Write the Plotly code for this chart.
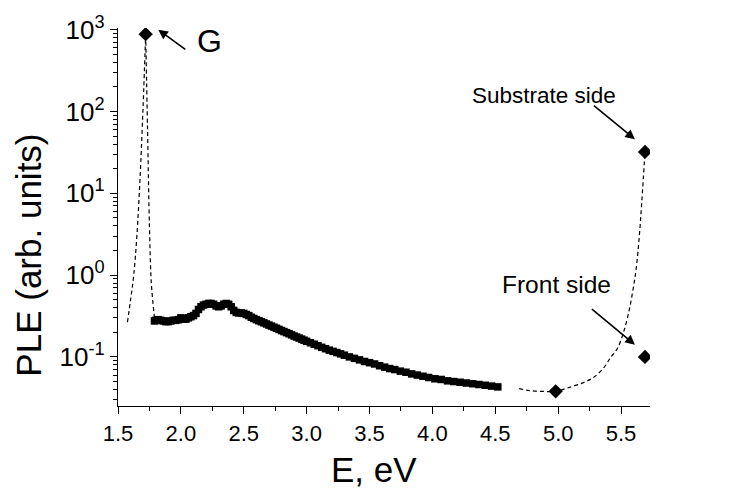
import plotly.graph_objects as go

# measured PLE spectrum (squares)
E_meas = [1.79, 1.80, 1.82, 1.84, 1.86, 1.88, 1.90, 1.92, 1.94, 1.96, 1.98, 2.00,
          2.02, 2.04, 2.06, 2.08, 2.10, 2.12, 2.14, 2.16, 2.18, 2.20, 2.22, 2.24,
          2.26, 2.28, 2.30, 2.32, 2.34, 2.36, 2.38, 2.40, 2.42, 2.44, 2.46, 2.48,
          2.50, 2.52, 2.54, 2.56, 2.58, 2.60,
          2.62, 2.64, 2.66, 2.68, 2.70, 2.72, 2.74, 2.76, 2.78, 2.80, 2.82, 2.84,
          2.86, 2.88, 2.90, 2.92, 2.94, 2.96, 2.98, 3.00,
          3.03, 3.06, 3.09, 3.12, 3.15, 3.18, 3.21, 3.24, 3.27, 3.30,
          3.34, 3.38, 3.42, 3.46, 3.50, 3.54, 3.58, 3.62, 3.66, 3.70,
          3.745, 3.79, 3.835, 3.88, 3.925, 3.97, 4.02, 4.07, 4.12, 4.17, 4.22,
          4.27, 4.32, 4.37, 4.42, 4.47, 4.52]
PLE_meas = [0.275, 0.28, 0.285, 0.28, 0.275, 0.27, 0.27, 0.275, 0.28, 0.28, 0.285, 0.30,
            0.29, 0.29, 0.30, 0.31, 0.32, 0.34, 0.38, 0.41, 0.43, 0.44, 0.45, 0.45,
            0.44, 0.42, 0.41, 0.42, 0.44, 0.45, 0.44, 0.41, 0.37, 0.35, 0.345, 0.345,
            0.34, 0.33, 0.32, 0.305, 0.295, 0.285,
            0.277, 0.269, 0.261, 0.253, 0.245, 0.238, 0.231, 0.224, 0.217, 0.210, 0.204, 0.198,
            0.192, 0.186, 0.180, 0.175, 0.170, 0.165, 0.160, 0.155,
            0.149, 0.143, 0.137, 0.131, 0.126, 0.121, 0.117, 0.113, 0.109, 0.105,
            0.100, 0.096, 0.092, 0.088, 0.085, 0.082, 0.078, 0.075, 0.072, 0.070,
            0.067, 0.065, 0.062, 0.060, 0.058, 0.056, 0.054, 0.053, 0.051, 0.050, 0.049,
            0.048, 0.047, 0.046, 0.045, 0.044, 0.043]

# single-point measurements (diamonds)
E_pts = [1.72, 4.98, 5.69, 5.69]
PLE_pts = [880, 0.038, 0.1, 32]

# guide-to-the-eye dashed curves
E_guide1 = [1.575, 1.60, 1.625, 1.65, 1.675, 1.70, 1.72]
PLE_guide1 = [0.265, 0.5, 1.0, 3.0, 15, 120, 880]
E_guide2 = [1.72, 1.735, 1.75, 1.765, 1.79]
PLE_guide2 = [880, 60, 4, 0.8, 0.3]
E_guide3 = [4.69, 4.76, 4.86, 4.98, 5.08, 5.20, 5.28, 5.36, 5.42, 5.47, 5.515,
            5.555, 5.59, 5.62, 5.645, 5.665, 5.69]
PLE_guide3 = [0.041, 0.039, 0.038, 0.038, 0.042, 0.0485, 0.056, 0.073, 0.10, 0.126, 0.19,
              0.32, 0.6, 1.2, 3, 8, 32]

x_ticks = [1.5, 2.0, 2.5, 3.0, 3.5, 4.0, 4.5, 5.0, 5.5]
x_tick_text = ["1.5", "2.0", "2.5", "3.0", "3.5", "4.0", "4.5", "5.0", "5.5"]
y_ticks = [0.1, 1, 10, 100, 1000]
y_tick_text = ["10<sup>-1</sup>", "10<sup>0</sup>", "10<sup>1</sup>", "10<sup>2</sup>", "10<sup>3</sup>"]

FONT = "Liberation Sans, Arial, Helvetica, sans-serif"

fig = go.Figure()
dash_line = dict(color="black", width=1.2, dash="4px,3px", shape="spline")
for ex, ey in [(E_guide1, PLE_guide1), (E_guide2, PLE_guide2), (E_guide3, PLE_guide3)]:
    fig.add_trace(go.Scatter(x=ex, y=ey, mode="lines", line=dash_line,
                             showlegend=False, hoverinfo="skip"))
fig.add_trace(go.Scatter(x=E_meas, y=PLE_meas, mode="markers",
                         marker=dict(symbol="square", size=7.5, color="black"),
                         showlegend=False))
fig.add_trace(go.Scatter(x=E_pts, y=PLE_pts, mode="markers",
                         marker=dict(symbol="diamond", size=11, color="black"),
                         showlegend=False))

minor_y = []
for d in [0.01, 0.1, 1, 10, 100]:
    for m in range(2, 10):
        minor_y.append(round(d * m, 4))

fig.update_layout(
    width=746, height=494,
    margin=dict(l=118, r=96, t=22, b=88),
    paper_bgcolor="white", plot_bgcolor="white",
    font=dict(family=FONT, color="black"),
    xaxis=dict(range=[1.5, 5.73], showline=True, linecolor="black", linewidth=1.3,
               showgrid=False, zeroline=False, ticks="outside", ticklen=7, tickwidth=1.3,
               tickcolor="black", tickmode="array", tickvals=x_ticks, ticktext=x_tick_text,
               tickfont=dict(size=22, family=FONT),
               minor=dict(ticks="outside", ticklen=4, tickwidth=1.3, tickcolor="black",
                          dtick=0.25, tick0=1.5, showgrid=False)),
    yaxis=dict(type="log", range=[-1.6, 3.02], showline=True, linecolor="black", linewidth=1.3,
               showgrid=False, zeroline=False, ticks="outside", ticklen=7, tickwidth=1.3,
               tickcolor="black", tickmode="array", tickvals=y_ticks, ticktext=y_tick_text,
               tickfont=dict(size=26, family=FONT),
               minor=dict(ticks="outside", ticklen=4, tickwidth=1.3, tickcolor="black",
                          tickmode="array", tickvals=minor_y, showgrid=False)),
)

# axis titles
fig.add_annotation(xref="paper", yref="paper", x=0.481, y=-0.167, text="E, eV",
                   xanchor="center", yanchor="middle",
                   showarrow=False, font=dict(size=35, family=FONT))
fig.add_annotation(xref="paper", yref="paper", x=-0.169, y=0.398, text="PLE (arb. units)",
                   xanchor="center", yanchor="middle",
                   textangle=-90, showarrow=False, font=dict(size=35, family=FONT))

arrow = dict(showarrow=True, arrowhead=2, arrowsize=1.2, arrowwidth=1.6, arrowcolor="black",
             axref="pixel", ayref="pixel")
fig.add_annotation(x=1.82, y=3.0, ax=30, ay=22, **arrow)
fig.add_annotation(x=2.23, y=2.86, text="G", showarrow=False, font=dict(size=32, family=FONT))
fig.add_annotation(x=5.61, y=1.66, ax=-44, ay=-36, **arrow)
fig.add_annotation(x=4.89, y=2.19, text="Substrate side", showarrow=False,
                   font=dict(size=22.5, family=FONT))
fig.add_annotation(x=5.61, y=-0.85, ax=-46, ay=-38, **arrow)
fig.add_annotation(x=4.99, y=-0.12, text="Front side", showarrow=False,
                   font=dict(size=24.5, family=FONT))

fig.write_html("out.html")
